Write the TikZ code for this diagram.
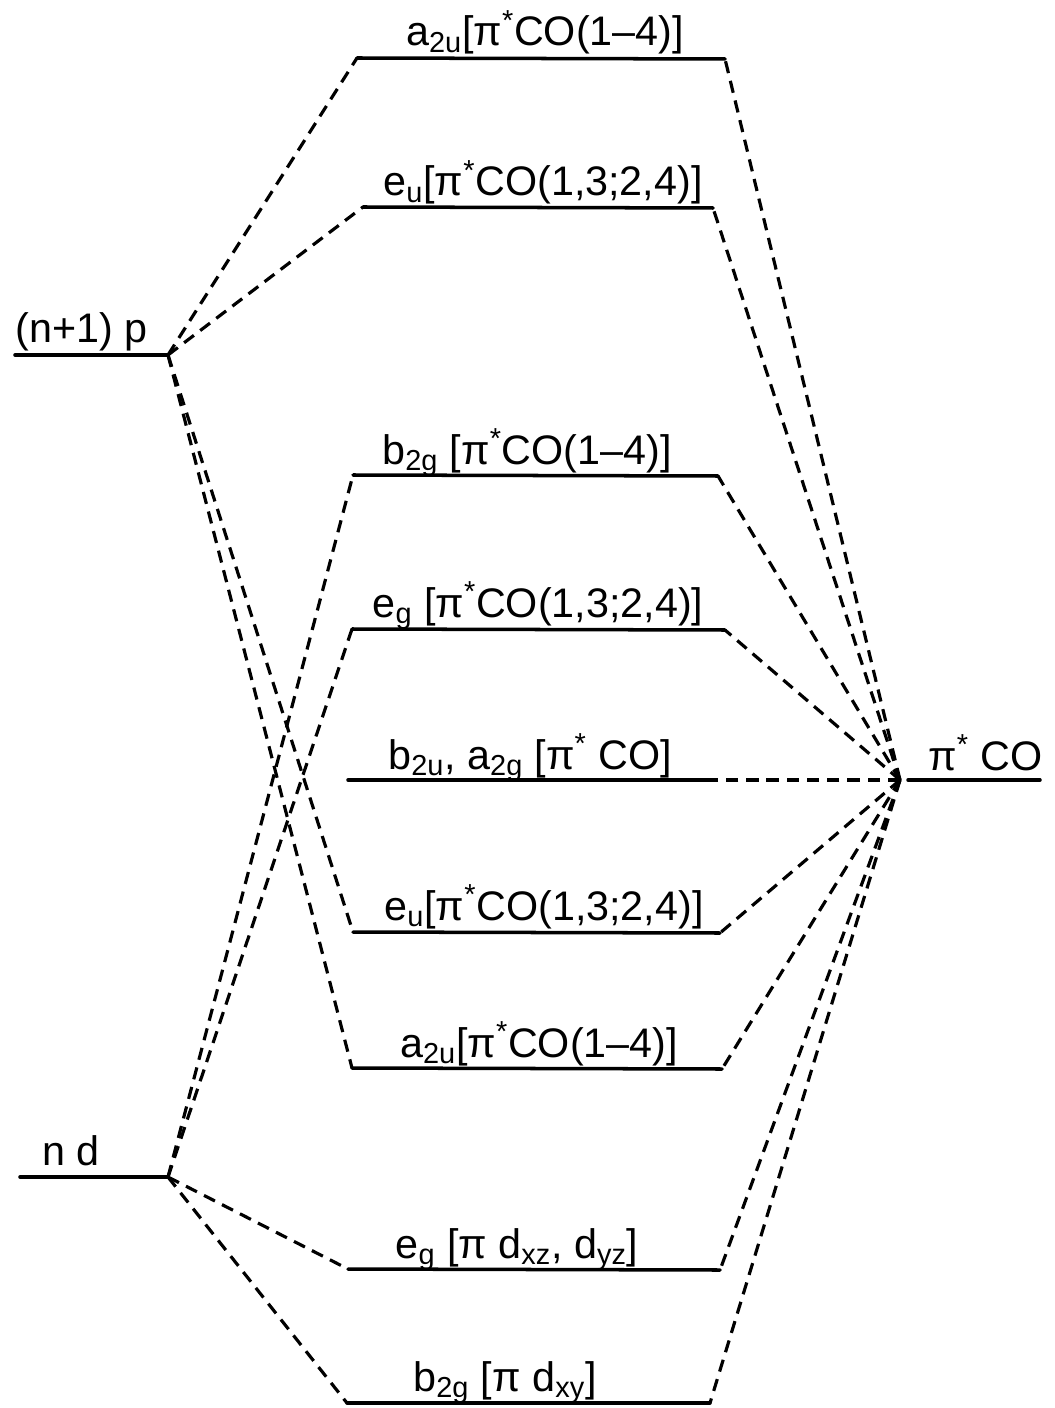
\documentclass[tikz,border=0pt]{standalone}
\usepackage{fontspec}
\setmainfont{Liberation Sans}
\usetikzlibrary{positioning}
\newcommand{\pistar}{π\textsuperscript{*}}
\begin{document}
\begin{tikzpicture}[
    x=0.02cm, y=-0.02cm,
    lvl/.style={line width=2pt, line cap=round},
    corr/.style={line width=1.8pt, dash pattern=on 7pt off 4.5pt},
    lbl/.style={anchor=base, inner sep=0pt, font=\fontsize{23.5}{28}\selectfont}
]
\useasboundingbox (0,0) rectangle (1054,1408);

% ATOMIC LEVELS
\coordinate (pL) at (15,355);
\coordinate (pR) at (168,355);
\coordinate (dL) at (20,1177);
\coordinate (dR) at (168,1177);
\coordinate (coL) at (900,780);
\coordinate (coR) at (1040,780);

\draw[lvl] (pL) -- (pR);
\draw[lvl] (dL) -- (dR);
\draw[lvl] (coL) ++(8,0) coordinate (coS) -- (coR);

\node[lbl, anchor=base west] (plabel) at (15,343) {(n+1) p};
\node[lbl, anchor=base west] (dlabel) at (42,1165) {n d};
\node[lbl, anchor=base west] (colabel) at (928,770) {\pistar\ CO};

% MOLECULAR LEVELS
\coordinate (a2uTL) at (357,58);
\coordinate (a2uTR) at (725,59);
\coordinate (euTL)  at (363,207);
\coordinate (euTR)  at (713,208);
\coordinate (b2gTL) at (353,475);
\coordinate (b2gTR) at (718,476);
\coordinate (egTL)  at (352,629);
\coordinate (egTR)  at (725,630);
\coordinate (b2uL)  at (348,780);
\coordinate (b2uR)  at (713,780);
\coordinate (euBL)  at (353,932);
\coordinate (euBR)  at (720,933);
\coordinate (a2uBL) at (352,1068);
\coordinate (a2uBR) at (722,1069);
\coordinate (egBL)  at (348,1269);
\coordinate (egBR)  at (720,1270);
\coordinate (b2gBL) at (347,1403);
\coordinate (b2gBR) at (710,1403);

\draw[lvl] (a2uTL) -- (a2uTR);
\draw[lvl] (euTL) -- (euTR);
\draw[lvl] (b2gTL) -- (b2gTR);
\draw[lvl] (egTL) -- (egTR);
\draw[lvl] (b2uL) -- (b2uR);
\draw[lvl] (euBL) -- (euBR);
\draw[lvl] (a2uBL) -- (a2uBR);
\draw[lvl] (egBL) -- (egBR);
\draw[lvl] (b2gBL) -- (b2gBR);

\node[lbl] (a2uT) at (545,46)
{a\textsubscript{2u}[\pistar CO(1–4)]};
\node[lbl] (euT) at (543,196)
{e\textsubscript{u}[\pistar CO(1,3;2,4)]};
\node[lbl] (b2gT) at (527,464)
{b\textsubscript{2g} [\pistar CO(1–4)]};
\node[lbl] (egT) at (538,617)
{e\textsubscript{g} [\pistar CO(1,3;2,4)]};
\node[lbl] (b2u) at (530,769)
{b\textsubscript{2u}, a\textsubscript{2g} [\pistar\ CO]};
\node[lbl] (euB) at (544,920)
{e\textsubscript{u}[\pistar CO(1,3;2,4)]};
\node[lbl] (a2uB) at (539,1057)
{a\textsubscript{2u}[\pistar CO(1–4)]};
\node[lbl] (egB) at (517,1258)
{e\textsubscript{g} [π d\textsubscript{xz}, d\textsubscript{yz}]};
\node[lbl] (b2gB) at (505,1391)
{b\textsubscript{2g} [π d\textsubscript{xy}]};

% (n+1)p CORRELATIONS
\draw[corr] (pR) -- (a2uTL);
\draw[corr] (pR) -- (euTL);
\draw[corr] (pR) -- (euBL);
\draw[corr] (pR) -- (a2uBL);

% nd CORRELATIONS
\draw[corr] (dR) -- (b2gTL);
\draw[corr] (dR) -- (egTL);
\draw[corr] (dR) -- (egBL);
\draw[corr] (dR) -- (b2gBL);

% pi* CO CORRELATIONS
\draw[corr] (coL) -- (a2uTR);
\draw[corr] (coL) -- (euTR);
\draw[corr] (coL) -- (b2gTR);
\draw[corr] (coL) -- (egTR);
\draw[corr] (coL) -- (b2uR);
\draw[corr] (coL) -- (euBR);
\draw[corr] (coL) -- (a2uBR);
\draw[corr] (coL) -- (egBR);
\draw[corr] (coL) -- (b2gBR);

\end{tikzpicture}
\end{document}
